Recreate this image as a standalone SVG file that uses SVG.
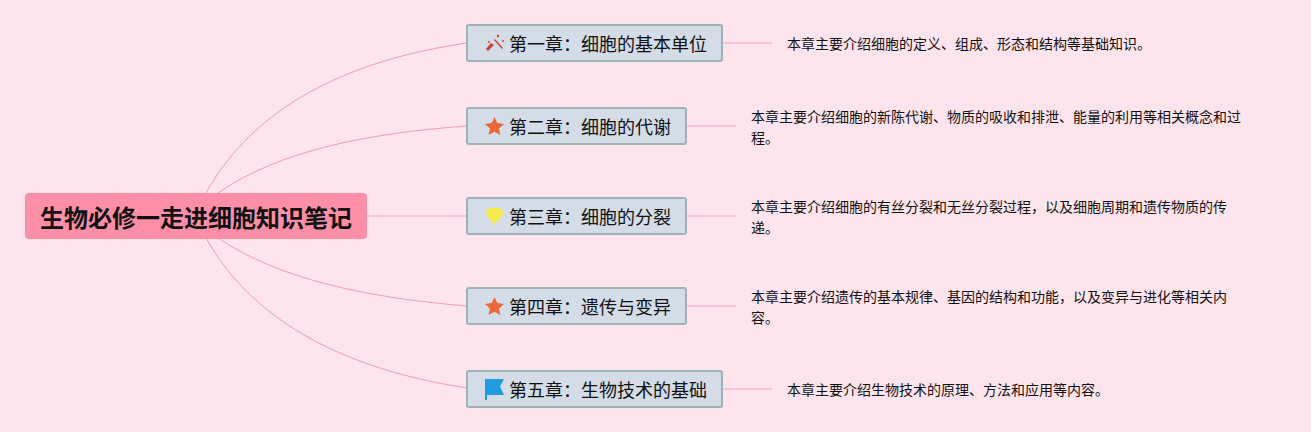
<svg xmlns="http://www.w3.org/2000/svg" width="1311" height="432" viewBox="0 0 1311 432">
<style>
text{font-family:"Noto Sans CJK SC","Noto Sans",sans-serif;fill:#111}
.box{fill:#d3dce7;stroke:#9db3b5;stroke-width:2}
.t{font-size:18px}
.d{font-size:14px}
.c{fill:none;stroke:#f29db8;stroke-width:1}
.s{fill:none;stroke:#f9b9cc;stroke-width:1.5}
.star{fill:#e8683a}
</style>
<rect width="1311" height="432" fill="#fee4ec"/>
<g id="connectors">
<path class="c" d="M206 193C255 105 350 60 467 43"/>
<path class="c" d="M218 193C280 150 370 133 467 126"/>
<path class="s" d="M367 216H467"/>
<path class="c" d="M218 238C280 280 370 298 467 306"/>
<path class="c" d="M206 238C255 325 350 370 467 388"/>
<path class="s" d="M722 43H772"/>
<path class="s" d="M686 126H736"/>
<path class="s" d="M686 216H736"/>
<path class="s" d="M686 306H736"/>
<path class="s" d="M722 389H772"/>
</g>
<g id="root">
<rect x="25" y="193" width="342" height="46" rx="4" fill="#ff8fa8"/>
<text x="40" y="226.500" font-size="24" font-weight="700">生物必修一走进细胞知识笔记</text>
</g>
<g id="node1">
<rect class="box" x="467" y="25" width="255" height="36" rx="2"/>
<g fill="#cf3f36"><path d="M488 51L486 49 491 43 494 45Z"/><path d="M495 39L503 48 502 49 494 40Z"/><circle cx="498" cy="36" r="1.200"/><circle cx="503" cy="41" r="1"/><circle cx="489" cy="42" r="0.900"/></g>
<text class="t" x="509" y="50.500">第一章：细胞的基本单位</text>
</g>
<g id="node1-note"><text class="d" x="787" y="49">本章主要介绍细胞的定义、组成、形态和结构等基础知识。</text></g>
<g id="node2">
<rect class="box" x="467" y="108" width="219" height="36" rx="2"/>
<path class="star" d="M494.500 117L497.300 123.100 504 123.900 499 128.400 500.400 135 494.500 131.700 488.600 135 490 128.400 485 123.900 491.700 123.100Z"/>
<text class="t" x="509" y="133.500">第二章：细胞的代谢</text>
</g>
<g id="node2-note"><text class="d" x="751" y="122">本章主要介绍细胞的新陈代谢、物质的吸收和排泄、能量的利用等相关概念和过</text><text class="d" x="751" y="143">程。</text></g>
<g id="node3">
<rect class="box" x="467" y="198" width="219" height="36" rx="2"/>
<path d="M489 208H500L504 213 494.500 225 485 213Z" fill="#f4ec4f"/>
<text class="t" x="509" y="223.500">第三章：细胞的分裂</text>
</g>
<g id="node3-note"><text class="d" x="751" y="212">本章主要介绍细胞的有丝分裂和无丝分裂过程，以及细胞周期和遗传物质的传</text><text class="d" x="751" y="233">递。</text></g>
<g id="node4">
<rect class="box" x="467" y="288" width="219" height="36" rx="2"/>
<path class="star" d="M494.500 297L497.300 303.100 504 303.900 499 308.400 500.400 315 494.500 311.700 488.600 315 490 308.400 485 303.900 491.700 303.100Z"/>
<text class="t" x="509" y="313.500">第四章：遗传与变异</text>
</g>
<g id="node4-note"><text class="d" x="751" y="302">本章主要介绍遗传的基本规律、基因的结构和功能，以及变异与进化等相关内</text><text class="d" x="751" y="323">容。</text></g>
<g id="node5">
<rect class="box" x="467" y="371" width="255" height="36" rx="2"/>
<path d="M485 379H504L500 386.500 504 395H487V400H485Z" fill="#1f9be0"/>
<text class="t" x="509" y="396.500">第五章：生物技术的基础</text>
</g>
<g id="node5-note"><text class="d" x="787" y="395">本章主要介绍生物技术的原理、方法和应用等内容。</text></g>
</svg>
